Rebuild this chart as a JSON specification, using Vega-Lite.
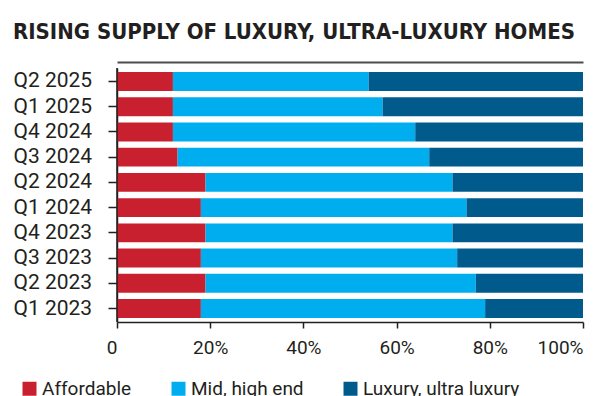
{
  "$schema": "https://vega.github.io/schema/vega-lite/v6.json",
  "padding": {"left": 13, "top": 21, "right": 5, "bottom": 5},
  "title": {
    "text": "RISING SUPPLY OF LUXURY, ULTRA-LUXURY HOMES",
    "anchor": "start",
    "font": "DejaVu Sans Condensed",
    "fontSize": 22,
    "fontWeight": "bold",
    "color": "#231F20",
    "offset": 18
  },
  "width": 466,
  "height": 254,
  "layer": [
    {
      "data": {
        "values": [
          {"quarter": "Q2 2025", "segment": "Affordable", "rank": 1, "share": 12},
          {"quarter": "Q2 2025", "segment": "Mid, high end", "rank": 2, "share": 42},
          {"quarter": "Q2 2025", "segment": "Luxury, ultra luxury", "rank": 3, "share": 46},
          {"quarter": "Q1 2025", "segment": "Affordable", "rank": 1, "share": 12},
          {"quarter": "Q1 2025", "segment": "Mid, high end", "rank": 2, "share": 45},
          {"quarter": "Q1 2025", "segment": "Luxury, ultra luxury", "rank": 3, "share": 43},
          {"quarter": "Q4 2024", "segment": "Affordable", "rank": 1, "share": 12},
          {"quarter": "Q4 2024", "segment": "Mid, high end", "rank": 2, "share": 52},
          {"quarter": "Q4 2024", "segment": "Luxury, ultra luxury", "rank": 3, "share": 36},
          {"quarter": "Q3 2024", "segment": "Affordable", "rank": 1, "share": 13},
          {"quarter": "Q3 2024", "segment": "Mid, high end", "rank": 2, "share": 54},
          {"quarter": "Q3 2024", "segment": "Luxury, ultra luxury", "rank": 3, "share": 33},
          {"quarter": "Q2 2024", "segment": "Affordable", "rank": 1, "share": 19},
          {"quarter": "Q2 2024", "segment": "Mid, high end", "rank": 2, "share": 53},
          {"quarter": "Q2 2024", "segment": "Luxury, ultra luxury", "rank": 3, "share": 28},
          {"quarter": "Q1 2024", "segment": "Affordable", "rank": 1, "share": 18},
          {"quarter": "Q1 2024", "segment": "Mid, high end", "rank": 2, "share": 57},
          {"quarter": "Q1 2024", "segment": "Luxury, ultra luxury", "rank": 3, "share": 25},
          {"quarter": "Q4 2023", "segment": "Affordable", "rank": 1, "share": 19},
          {"quarter": "Q4 2023", "segment": "Mid, high end", "rank": 2, "share": 53},
          {"quarter": "Q4 2023", "segment": "Luxury, ultra luxury", "rank": 3, "share": 28},
          {"quarter": "Q3 2023", "segment": "Affordable", "rank": 1, "share": 18},
          {"quarter": "Q3 2023", "segment": "Mid, high end", "rank": 2, "share": 55},
          {"quarter": "Q3 2023", "segment": "Luxury, ultra luxury", "rank": 3, "share": 27},
          {"quarter": "Q2 2023", "segment": "Affordable", "rank": 1, "share": 19},
          {"quarter": "Q2 2023", "segment": "Mid, high end", "rank": 2, "share": 58},
          {"quarter": "Q2 2023", "segment": "Luxury, ultra luxury", "rank": 3, "share": 23},
          {"quarter": "Q1 2023", "segment": "Affordable", "rank": 1, "share": 18},
          {"quarter": "Q1 2023", "segment": "Mid, high end", "rank": 2, "share": 61},
          {"quarter": "Q1 2023", "segment": "Luxury, ultra luxury", "rank": 3, "share": 21}
        ]
      },
      "mark": {"type": "bar"},
      "encoding": {
        "y": {
          "field": "quarter",
          "type": "nominal",
          "sort": ["Q2 2025", "Q1 2025", "Q4 2024", "Q3 2024", "Q2 2024", "Q1 2024", "Q4 2023", "Q3 2023", "Q2 2023", "Q1 2023"],
          "scale": {"paddingInner": 0.25, "paddingOuter": 0.16},
          "axis": {
            "title": null,
            "labelAlign": "left",
            "labelPadding": 95,
            "tickSize": 9,
            "labelFont": "Roboto",
            "labelFontSize": 21,
            "labelColor": "#231F20",
            "labelLimit": 200,
            "domainColor": "#231F20",
            "tickColor": "#231F20",
            "domainWidth": 1.5,
            "tickWidth": 1.5
          }
        },
        "x": {
          "field": "share",
          "type": "quantitative",
          "stack": "zero",
          "scale": {"domain": [0, 100], "nice": false},
          "axis": {
            "orient": "bottom",
            "title": null,
            "grid": false,
            "values": [0, 20, 40, 60, 80, 100],
            "labelExpr": "datum.value == 0 ? '0' : datum.value + '%'",
            "labelAlign": {"condition": {"test": "datum.value == 0 || datum.value == 100", "value": "right"}, "value": "center"},
            "labelFlush": false,
            "tickSize": 6,
            "labelPadding": 10,
            "labelFont": "Roboto",
            "labelFontSize": 19,
            "labelColor": "#231F20",
            "domainColor": "#231F20",
            "tickColor": "#231F20",
            "domainWidth": 1.5,
            "tickWidth": 1.5
          }
        },
        "color": {
          "field": "segment",
          "type": "nominal",
          "scale": {
            "domain": ["Affordable", "Mid, high end", "Luxury, ultra luxury"],
            "range": ["#C8202F", "#00AEEF", "#005A8C"]
          },
          "legend": {
            "title": null,
            "orient": "none",
            "direction": "horizontal",
            "legendX": -97,
            "legendY": 311,
            "padding": 0,
            "symbolType": "square",
            "symbolSize": 196,
            "symbolStrokeWidth": 0,
            "symbolOpacity": 1,
            "labelFont": "Roboto",
            "labelFontSize": 19,
            "labelColor": "#231F20",
            "labelOffset": 3,
            "columnPadding": 37
          }
        },
        "order": {"field": "rank", "type": "quantitative"}
      }
    },
    {
      "data": {"values": [{"edge": 0}]},
      "mark": {"type": "rule", "color": "#231F20", "strokeWidth": 1.5},
      "encoding": {
        "x": {
          "field": "edge",
          "type": "quantitative",
          "axis": {
            "orient": "top",
            "title": null,
            "labels": false,
            "ticks": false,
            "grid": false,
            "domain": true,
            "domainColor": "#4d4d4d",
            "domainWidth": 2,
            "offset": 6
          }
        }
      }
    }
  ],
  "resolve": {"axis": {"x": "independent"}},
  "config": {"view": {"stroke": null}}
}
